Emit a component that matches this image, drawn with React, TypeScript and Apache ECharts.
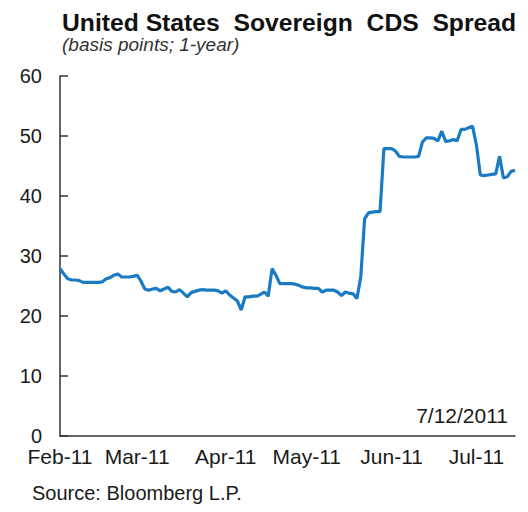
import React, { useEffect, useRef } from "react";
import * as echarts from "echarts";

const titleText = "United States  Sovereign  CDS  Spread";
const subtitleText = "(basis points; 1-year)";
const sourceText = "Source: Bloomberg L.P.";
const dateNote = "7/12/2011";
const monthNames = ["Jan", "Feb", "Mar", "Apr", "May", "Jun", "Jul", "Aug", "Sep", "Oct", "Nov", "Dec"];
const yTicks = [0, 10, 20, 30, 40, 50, 60];

// weekday dates from 2011-02-01 to 2011-07-15
const dates: string[] = (() => {
  const out: string[] = [];
  const d = new Date(Date.UTC(2011, 1, 1));
  const end = new Date(Date.UTC(2011, 6, 15));
  while (d <= end) {
    const wd = d.getUTCDay();
    if (wd !== 0 && wd !== 6) out.push(d.toISOString().slice(0, 10));
    d.setUTCDate(d.getUTCDate() + 1);
  }
  return out;
})();

const cdsSpread = [
  27.9, 27.0, 26.2, 26.0, 26.0, 25.9, 25.6, 25.6, 25.6, 25.6,
  25.6, 25.7, 26.2, 26.4, 26.8, 27.0, 26.5, 26.5, 26.5, 26.6,
  26.8, 25.8, 24.5, 24.3, 24.5, 24.6, 24.2, 24.5, 24.8, 24.1,
  24.0, 24.4, 23.8, 23.2, 23.9, 24.1, 24.3, 24.4, 24.3, 24.3,
  24.3, 24.2, 23.8, 24.2, 23.5, 23.0, 22.5, 21.0, 23.2, 23.2,
  23.3, 23.3, 23.6, 24.0, 23.3, 27.9, 26.8, 25.4, 25.4, 25.4,
  25.4, 25.3, 25.1, 24.8, 24.7, 24.7, 24.6, 24.6, 24.0, 24.3,
  24.3, 24.3, 24.0, 23.4, 24.0, 23.8, 23.7, 22.9, 26.5, 36.2,
  37.2, 37.3, 37.4, 37.4, 47.9, 47.9, 47.9, 47.5, 46.6, 46.5,
  46.5, 46.5, 46.5, 46.6, 49.0, 49.7, 49.7, 49.6, 49.2, 50.8,
  49.1, 49.2, 49.4, 49.2, 51.1, 51.1, 51.4, 51.6, 48.5, 43.5,
  43.4, 43.5, 43.6, 43.7, 46.6, 43.0, 43.2, 44.1, 44.3,
];

const isMonthStart = (i: number) =>
  i === 0 || dates[i].slice(5, 7) !== dates[i - 1].slice(5, 7);

export default function App() {
  const ref = useRef<HTMLDivElement>(null);
  useEffect(() => {
    if (!ref.current) return;
    const chart = echarts.init(ref.current, undefined, { renderer: "svg" });
    const font = "'Liberation Sans', Arial, sans-serif";
    chart.setOption({
      animation: false,
      backgroundColor: "#ffffff",
      title: {
        text: titleText,
        left: 57,
        top: 4,
        textStyle: { fontFamily: font, fontSize: 24.7, fontWeight: "bold", color: "#111111", lineHeight: 26 },
      },
      grid: { left: 60, right: 13, top: 76, bottom: 76, containLabel: false },
      xAxis: {
        type: "category",
        data: dates,
        boundaryGap: false,
        axisLine: { show: true, lineStyle: { color: "#333", width: 1.5 } },
        axisTick: { show: false },
        axisLabel: {
          interval: (i: number) => isMonthStart(i),
          formatter: (v: string) => monthNames[parseInt(v.slice(5, 7), 10) - 1] + "-" + v.slice(2, 4),
          fontFamily: font,
          fontSize: 21,
          color: "#1a1a1a",
          margin: 10,
          showMinLabel: true,
        },
        splitLine: { show: false },
      },
      yAxis: {
        type: "value",
        min: yTicks[0],
        max: yTicks[yTicks.length - 1],
        interval: 10,
        axisLine: { show: true, lineStyle: { color: "#333", width: 1.5 } },
        axisTick: { show: true, inside: true, length: 8, lineStyle: { color: "#333", width: 1.5 } },
        axisLabel: { fontFamily: font, fontSize: 20, color: "#1a1a1a", margin: 18, lineHeight: 20 },
        splitLine: { show: false },
      },
      graphic: [
        {
          type: "text",
          left: 62,
          top: 35,
          style: { text: subtitleText, fontFamily: font, fontSize: 19, fontStyle: "italic", fill: "#333333" },
        },
        {
          type: "text",
          right: 20,
          top: 405,
          style: { text: dateNote, fontFamily: font, fontSize: 21, fill: "#1a1a1a" },
        },
        {
          type: "text",
          left: 32,
          top: 483,
          style: { text: sourceText, fontFamily: font, fontSize: 20, fill: "#1a1a1a" },
        },
      ],
      series: [
        {
          type: "line",
          data: cdsSpread,
          showSymbol: false,
          symbol: "none",
          lineStyle: { color: "#1a7bc2", width: 3.2 },
        },
      ],
    });
    return () => chart.dispose();
  }, []);
  return <div ref={ref} style={{ width: 528, height: 512, position: "absolute", left: 0, top: 0 }} />;
}
